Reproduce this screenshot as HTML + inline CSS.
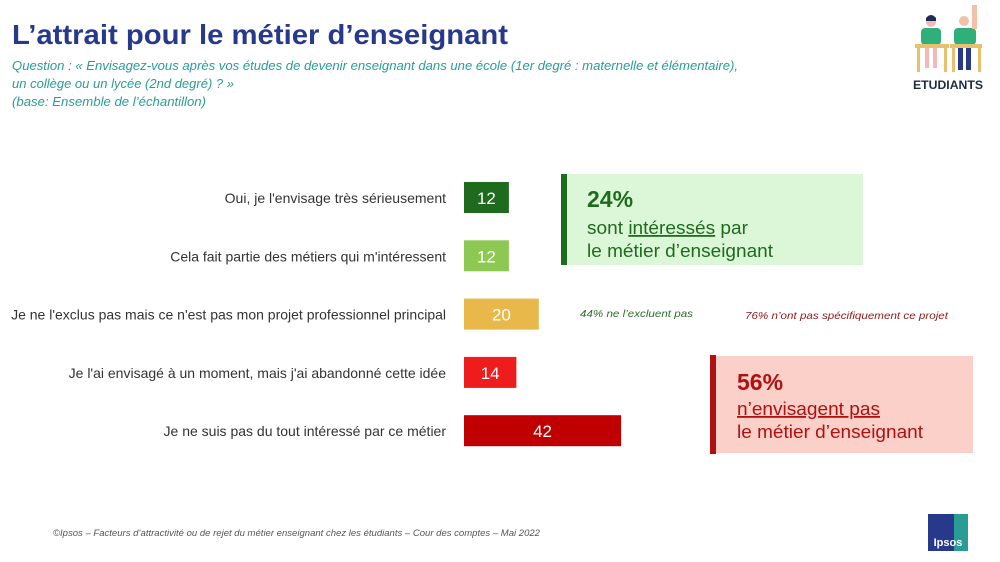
<!DOCTYPE html>
<html><head><meta charset="utf-8"><style>
html,body{margin:0;padding:0;background:#fff;width:1000px;height:562px;overflow:hidden}
svg{display:block;font-family:"Liberation Sans",sans-serif}
</style></head><body>
<svg width="1000" height="562" viewBox="0 0 1000 562">
<text x="12" y="44" font-size="28" font-weight="bold" fill="#27398a" textLength="496" lengthAdjust="spacingAndGlyphs">L’attrait pour le métier d’enseignant</text>
<g font-style="italic" font-size="13" fill="#2a9c96">
<text x="12" y="70" textLength="726" lengthAdjust="spacingAndGlyphs">Question : « Envisagez-vous après vos études de devenir enseignant dans une école (1er degré : maternelle et élémentaire),</text>
<text x="12" y="88" textLength="222" lengthAdjust="spacingAndGlyphs">un collège ou un lycée (2nd degré) ? »</text>
<text x="12" y="106" textLength="194" lengthAdjust="spacingAndGlyphs">(base: Ensemble de l’échantillon)</text>
</g>
<g>
<rect x="921" y="28" width="20" height="17" rx="4" fill="#2fb07a"/>
<circle cx="931" cy="22" r="5" fill="#f3b8b8"/>
<path d="M926 18 q5 -6 10 0 v3 h-10z" fill="#1f2a5a"/>
<rect x="954" y="28" width="22" height="17" rx="4" fill="#2fb07a"/>
<circle cx="964" cy="21" r="5" fill="#f3c0a8"/>
<rect x="972" y="5" width="5" height="24" fill="#f3c0a8"/>
<rect x="915" y="44" width="34" height="4" fill="#e8c070"/>
<rect x="950" y="44" width="32" height="4" fill="#e8c070"/>
<rect x="917" y="48" width="3" height="24" fill="#e8c070"/><rect x="944" y="48" width="3" height="24" fill="#e8c070"/>
<rect x="952" y="48" width="3" height="24" fill="#e8c070"/><rect x="978" y="48" width="3" height="24" fill="#e8c070"/>
<rect x="925" y="48" width="4" height="20" fill="#f3b8b8"/><rect x="933" y="48" width="4" height="20" fill="#f3b8b8"/>
<rect x="958" y="48" width="5" height="22" fill="#27398a"/><rect x="966" y="48" width="5" height="22" fill="#27398a"/>
<text x="948" y="89" font-size="12" font-weight="bold" fill="#1f2a44" text-anchor="middle" textLength="70" lengthAdjust="spacingAndGlyphs">ETUDIANTS</text>
</g>
<g id="bars"></g>
<g>
<rect x="566" y="174" width="297" height="91" fill="#dcf6d8"/>
<rect x="561" y="174" width="6" height="91" fill="#1e6b1e"/>
<text x="587" y="207" font-size="23" font-weight="bold" fill="#1e6b1e">24%</text>
<text x="587" y="234" font-size="18" fill="#1e6b1e" textLength="161" lengthAdjust="spacingAndGlyphs">sont <tspan text-decoration="underline">intéressés</tspan> par</text>
<text x="587" y="257" font-size="18" fill="#1e6b1e" textLength="186" lengthAdjust="spacingAndGlyphs">le métier d’enseignant</text>
</g>
<text x="580" y="317" font-size="10.5" font-style="italic" fill="#2e6b2e" textLength="113" lengthAdjust="spacingAndGlyphs">44% ne l’excluent pas</text>
<text x="745" y="319" font-size="10.5" font-style="italic" fill="#8b1a1a" textLength="203" lengthAdjust="spacingAndGlyphs">76% n’ont pas spécifiquement ce projet</text>
<g>
<rect x="715" y="356" width="258" height="97" fill="#fad0c8"/>
<rect x="710" y="355" width="6" height="99" fill="#b01010"/>
<text x="737" y="390" font-size="23" font-weight="bold" fill="#b01010">56%</text>
<text x="737" y="415" font-size="18" fill="#b01010" text-decoration="underline" textLength="143" lengthAdjust="spacingAndGlyphs">n’envisagent pas</text>
<text x="737" y="438" font-size="18" fill="#b01010" textLength="186" lengthAdjust="spacingAndGlyphs">le métier d’enseignant</text>
</g>
<text x="53" y="536" font-size="9" font-style="italic" fill="#555" textLength="487" lengthAdjust="spacingAndGlyphs">©Ipsos – Facteurs d’attractivité ou de rejet du métier enseignant chez les étudiants – Cour des comptes – Mai 2022</text>
<g>
<rect x="928" y="514" width="40" height="37" fill="#2a9c96"/>
<path d="M928 514 h26 v37 h-26z" fill="#27398a"/>
<text x="948" y="546" font-size="11" font-weight="bold" fill="#fff" text-anchor="middle">Ipsos</text>
</g>
</svg>
<script>
const categories=["Oui, je l'envisage très sérieusement","Cela fait partie des métiers qui m'intéressent","Je ne l'exclus pas mais ce n'est pas mon projet professionnel principal","Je l'ai envisagé à un moment, mais j'ai abandonné cette idée","Je ne suis pas du tout intéressé par ce métier"];
const values=[12,12,20,14,42];
const colors=["#1e6b1e","#8cc852","#e8b84a","#ee1c1c","#c00000"];
const x0=464, unit=3.74, y0=182, step=58.3, bh=31;
const xs=v=>x0+v*unit;
const ys=i=>y0+i*step;
const g=document.getElementById('bars');
const NS="http://www.w3.org/2000/svg";
values.forEach((v,i)=>{
 const r=document.createElementNS(NS,'rect');
 r.setAttribute('x',x0);r.setAttribute('y',ys(i));
 r.setAttribute('width',xs(v)-x0);r.setAttribute('height',bh);
 r.setAttribute('fill',colors[i]);
 
 
 g.appendChild(r);
 const t=document.createElementNS(NS,'text');
 t.setAttribute('x',(x0+xs(v))/2);t.setAttribute('y',ys(i)+22);
 t.setAttribute('text-anchor','middle');t.setAttribute('font-size','17');t.setAttribute('fill','#fff');
 t.textContent=v;
 
 
 g.appendChild(t);
 const l=document.createElementNS(NS,'text');
 l.setAttribute('x',446);l.setAttribute('y',ys(i)+21);
 l.setAttribute('text-anchor','end');l.setAttribute('font-size','14');l.setAttribute('fill','#333');
 l.textContent=categories[i];
 
 
 g.appendChild(l);
});
</script>
</body></html>
